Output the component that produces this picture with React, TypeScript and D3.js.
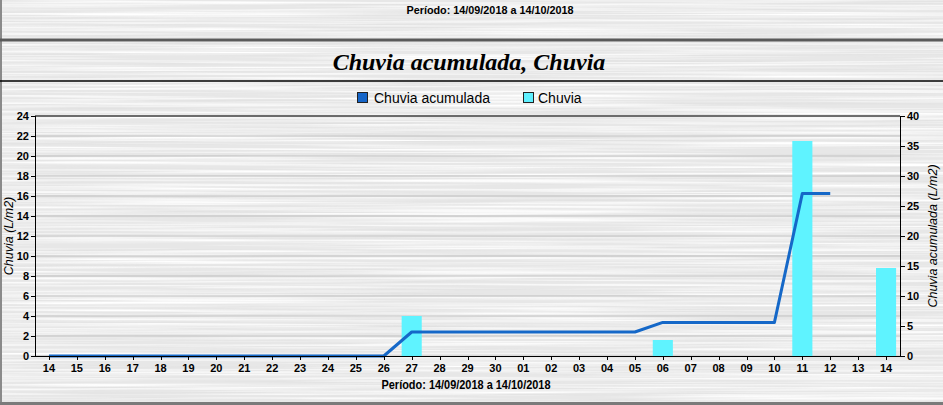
import React from "react";
import * as d3 from "d3";

const categories = ["14","15","16","17","18","19","20","21","22","23","24","25","26","27","28","29","30","01","02","03","04","05","06","07","08","09","10","11","12","13","14b"];
const chuvia: (number)[] = [0,0,0,0,0,0,0,0,0,0,0,0,0,4,0,0,0,0,0,0,0,0,1.6,0,0,0,0,21.5,0,0,8.8];
const chuviaAcumulada: (number | null)[] = [0,0,0,0,0,0,0,0,0,0,0,0,0,4,4,4,4,4,4,4,4,4,5.6,5.6,5.6,5.6,5.6,27.1,27.1,null,null];
const leftTicks = d3.range(0, 25, 2);
const rightTicks = d3.range(0, 41, 5);

const W = 943, H = 405;
const M = { left: 35, right: 900, top: 116, bottom: 356 };
const FONT = "'Liberation Sans', Arial, sans-serif";

export default function App() {
  const x = d3.scaleBand<string>().domain(categories).range([M.left, M.right]).paddingInner(0.28).paddingOuter(0.14);
  const xc = (c: string) => (x(c) as number) + x.bandwidth() / 2;
  const yL = d3.scaleLinear().domain([0, 24]).range([M.bottom, M.top]);
  const yR = d3.scaleLinear().domain([0, 40]).range([M.bottom, M.top]);
  const lineData = categories.map((c, i) => ({ c, v: chuviaAcumulada[i] }));
  const line = d3.line<{ c: string; v: number | null }>()
    .defined(d => d.v !== null)
    .x(d => xc(d.c))
    .y(d => yR(d.v as number));
  const label = (c: string) => c.replace("b", "");

  return (
    <svg width={W} height={H} style={{ display: "block", position: "absolute", left: 0, top: 0 }}>
      <defs>
        <filter id="brush" x="0" y="0" width="100%" height="100%">
          <feTurbulence type="fractalNoise" baseFrequency="0.003 0.45" numOctaves="3" seed="3" result="n" />
          <feColorMatrix in="n" type="matrix" values="0 0 0 0 1  0 0 0 0 1  0 0 0 0 1  2.4 0 0 0 -0.95" result="w" />
          <feTurbulence type="fractalNoise" baseFrequency="0.004 0.35" numOctaves="2" seed="11" result="n2" />
          <feColorMatrix in="n2" type="matrix" values="0 0 0 0 0.7  0 0 0 0 0.7  0 0 0 0 0.7  1.3 0 0 0 -0.7" result="g" />
          <feMerge>
            <feMergeNode in="g" />
            <feMergeNode in="w" />
          </feMerge>
        </filter>
      </defs>
      <rect x={0} y={0} width={W} height={H} fill="#e7e7e7" />
      <rect x={0} y={0} width={W} height={H} filter="url(#brush)" />
      {/* frame */}
      <line x1={1} y1={0} x2={1} y2={H} stroke="#8a8a8a" strokeWidth={2} />
      <line x1={0} y1={H - 1.5} x2={W} y2={H - 1.5} stroke="#7a7a7a" strokeWidth={3} />
      <line x1={0} y1={40} x2={W} y2={40} stroke="#5a5a5a" strokeWidth={3} />
      <line x1={0} y1={81} x2={W} y2={81} stroke="#000" strokeWidth={1.5} />

      <text x={490} y={14} textAnchor="middle" fontFamily="'Liberation Sans Narrow', 'Liberation Sans', Arial" fontWeight="bold" fontSize={11} textLength={167} lengthAdjust="spacingAndGlyphs" fill="#000">Período: 14/09/2018 a 14/10/2018</text>
      <text x={469} y={70} textAnchor="middle" fontFamily="'Liberation Serif', 'Times New Roman', serif" fontStyle="italic" fontWeight="bold" fontSize={24} fill="#000">Chuvia acumulada, Chuvia</text>

      {/* legend */}
      <rect x={357.5} y={92.5} width={10} height={10} fill="#1565c8" stroke="#222" strokeWidth={1} />
      <text x={374} y={103} fontFamily={FONT} fontSize={14} fill="#000">Chuvia acumulada</text>
      <rect x={523.5} y={92.5} width={10} height={10} fill="#5ff0ff" stroke="#222" strokeWidth={1} />
      <text x={538} y={103} fontFamily={FONT} fontSize={14} fill="#000">Chuvia</text>

      {/* gridlines */}
      {leftTicks.map(t => (
        <line key={"g" + t} x1={M.left} x2={M.right} y1={yL(t)} y2={yL(t)} stroke="#bdbdbd" strokeWidth={1} />
      ))}

      {/* bars */}
      {categories.map((c, i) => chuvia[i] > 0 ? (
        <rect key={"b" + c} x={x(c)} y={yL(chuvia[i])} width={x.bandwidth()} height={yL(0) - yL(chuvia[i])} fill="#5ff3ff" />
      ) : null)}

      {/* line */}
      <path d={line(lineData) || ""} fill="none" stroke="#1568c8" strokeWidth={3} strokeLinejoin="round" />

      {/* plot frame */}
      <line x1={M.left} x2={M.right} y1={M.top} y2={M.top} stroke="#000" />
      <line x1={M.left} x2={M.right} y1={M.bottom + 0.5} y2={M.bottom + 0.5} stroke="#000" />
      <line x1={M.left + 0.5} x2={M.left + 0.5} y1={M.top} y2={M.bottom} stroke="#000" />
      <line x1={M.right + 0.5} x2={M.right + 0.5} y1={M.top} y2={M.bottom} stroke="#000" />

      {/* left axis */}
      {leftTicks.map(t => (
        <g key={"l" + t}>
          <line x1={M.left - 4} x2={M.left} y1={Math.round(yL(t)) + 0.5} y2={Math.round(yL(t)) + 0.5} stroke="#000" />
          <text x={M.left - 6} y={yL(t) + 4} textAnchor="end" fontFamily={FONT} fontWeight="bold" fontSize={11} fill="#000">{t}</text>
        </g>
      ))}
      {/* right axis */}
      {rightTicks.map(t => (
        <g key={"r" + t}>
          <line x1={M.right} x2={M.right + 5} y1={Math.round(yR(t)) + 0.5} y2={Math.round(yR(t)) + 0.5} stroke="#000" />
          <text x={M.right + 7} y={yR(t) + 4} textAnchor="start" fontFamily={FONT} fontWeight="bold" fontSize={11} fill="#000">{t}</text>
        </g>
      ))}
      {/* x axis */}
      {categories.map(c => (
        <g key={"x" + c}>
          <line x1={Math.round(xc(c)) + 0.5} x2={Math.round(xc(c)) + 0.5} y1={M.bottom} y2={M.bottom + 4} stroke="#000" />
          <text x={xc(c)} y={M.bottom + 16} textAnchor="middle" fontFamily={FONT} fontWeight="bold" fontSize={11} fill="#000">{label(c)}</text>
        </g>
      ))}
      <text x={466} y={389} textAnchor="middle" fontFamily={FONT} fontWeight="bold" fontSize={12} textLength={169} lengthAdjust="spacingAndGlyphs" fill="#000">Período: 14/09/2018 a 14/10/2018</text>

      <text transform={`translate(13,${(M.top + M.bottom) / 2}) rotate(-90)`} textAnchor="middle" fontFamily={FONT} fontStyle="italic" fontSize={12.5} fill="#000">Chuvia (L/m2)</text>
      <text transform={`translate(937,${(M.top + M.bottom) / 2}) rotate(-90)`} textAnchor="middle" fontFamily={FONT} fontStyle="italic" fontSize={12.5} fill="#000">Chuvia acumulada (L/m2)</text>
    </svg>
  );
}
